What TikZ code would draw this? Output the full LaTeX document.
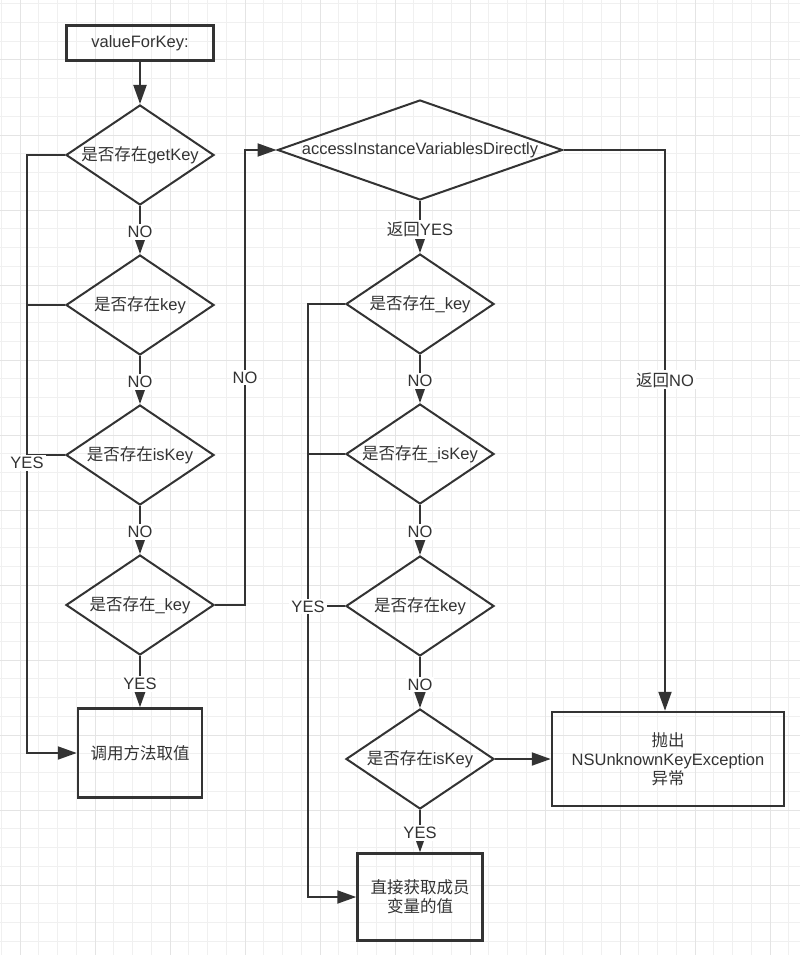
\documentclass[tikz,border=0pt]{standalone}
\usepackage{fontspec}
\setmainfont{Liberation Sans}
\newfontfamily\cjk{Noto Sans CJK SC}
\usetikzlibrary{shapes.geometric,arrows.meta}
\definecolor{ink}{HTML}{333333}
\definecolor{gridminor}{HTML}{F0F0F0}
\definecolor{gridmajor}{HTML}{E4E4E4}

\begin{document}
\begin{tikzpicture}[x=1pt,y=-1pt,>={Triangle[length=19pt,width=13pt]},node distance=150pt,
    every node/.style={font=\fontsize{16.5}{19}\selectfont,text=ink},
    box node/.style={rectangle,draw=ink,line width=2.5pt,align=center},
    test node/.style={diamond,draw=ink,line width=2pt,inner sep=0pt,minimum width=148pt,minimum height=100pt,aspect=1.48},
    flow/.style={->,draw=ink,line width=2pt},
    wire/.style={draw=ink,line width=2pt},
    lab/.style={fill=white,inner sep=2pt}]
                \useasboundingbox (0,0) rectangle (800,955);
                % grid paper
                \foreach \i in {0,...,42}
                    \draw[gridminor,line width=1pt] ({1.25+18.75*\i},0) -- ({1.25+18.75*\i},955);
                \foreach \i in {0,...,50}
                    \draw[gridminor,line width=1pt] (0,{3.75+18.75*\i}) -- (800,{3.75+18.75*\i});
                \foreach \i in {0,...,10}
                    \draw[gridmajor,line width=1pt] ({20+75*\i},0) -- ({20+75*\i},955);
                \foreach \i in {0,...,11}
                    \draw[gridmajor,line width=1pt] (0,{60+75*\i}) -- (800,{60+75*\i});

                % left column: getter methods
                \node[box node,minimum width=147pt,minimum height=35pt] (vfk) at (140,43) {valueForKey:};
                \node[test node] (getkey) at (140,155) {{\cjk 是否存在}getKey};
                \node[test node,below of=getkey] (key) {{\cjk 是否存在}key};
                \node[test node,below of=key] (iskey) {{\cjk 是否存在}isKey};
                \node[test node,below of=iskey] (ukey) {{\cjk 是否存在}\_key};
                \node[box node,minimum width=124pt,minimum height=89pt,below of=ukey,node distance=148pt] (call) {\cjk 调用方法取值};

                % middle column: instance variables
                \node[test node,minimum width=285pt,aspect=2.85] (aivd) at (420,150) {accessInstanceVariablesDirectly};
                \node[test node] (iuvar) at (420,304) {{\cjk 是否存在}\_key};
                \node[test node,below of=iuvar] (iuisvar) {{\cjk 是否存在}\_isKey};
                \node[test node,below of=iuisvar,node distance=152pt] (ivar) {{\cjk 是否存在}key};
                \node[test node,below of=ivar,node distance=153pt] (iisvar) {{\cjk 是否存在}isKey};
                \node[box node,minimum width=125pt,minimum height=87pt] (direct) at (420,897) {{\cjk 直接获取成员}\\{\cjk 变量的值}};

                % right: exception
                \node[box node,minimum width=232pt,minimum height=94pt] (exc) at (668,759) {{\cjk 抛出}\\NSUnknownKeyException\\{\cjk 异常}};

                \coordinate (lbus) at (27,0);
                \coordinate (nbus) at (245,0);
                \coordinate (mbus) at (308,0);
                \coordinate (rbus) at (665,0);

                \draw[flow] (vfk) -- (getkey);
                \draw[flow] (getkey) -- node[lab,pos=0.54]{NO} (key);
                \draw[flow] (key) -- node[lab,pos=0.54]{NO} (iskey);
                \draw[flow] (iskey) -- node[lab,pos=0.54]{NO} (ukey);
                \draw[flow] (ukey) -- node[lab,pos=0.55]{YES} (call);
                \draw[wire] (key.west) -- (key.west -| lbus);
                \draw[wire] (iskey.west) -- (iskey.west -| lbus);
                \draw[flow] (getkey.west) -- (getkey.west -| lbus) -- node[lab,pos=0.515]{YES} (call.west -| lbus) -- (call.west);

                \draw[flow] (ukey.east) -- (ukey.east -| nbus) -- node[lab]{NO} (aivd.west -| nbus) -- (aivd.west);
                \draw[flow] (aivd) -- node[lab,pos=0.54]{{\cjk 返回}YES} (iuvar);
                \draw[flow] (aivd.east) -- (aivd.east -| rbus) -- node[lab,pos=0.41]{{\cjk 返回}NO} (exc.north -| rbus);

                \draw[flow] (iuvar) -- node[lab,pos=0.54]{NO} (iuisvar);
                \draw[flow] (iuisvar) -- node[lab,pos=0.54]{NO} (ivar);
                \draw[flow] (ivar) -- node[lab,pos=0.54]{NO} (iisvar);
                \draw[flow] (iisvar) -- node[lab,pos=0.55]{YES} (direct);
                \draw[wire] (iuisvar.west) -- (iuisvar.west -| mbus);
                \draw[wire] (ivar.west) -- (ivar.west -| mbus);
                \draw[flow] (iuvar.west) -- (iuvar.west -| mbus) -- node[lab,pos=0.51]{YES} (direct.west -| mbus) -- (direct.west);
                \draw[flow] (iisvar) -- (exc);

            \end{tikzpicture}
\end{document}
